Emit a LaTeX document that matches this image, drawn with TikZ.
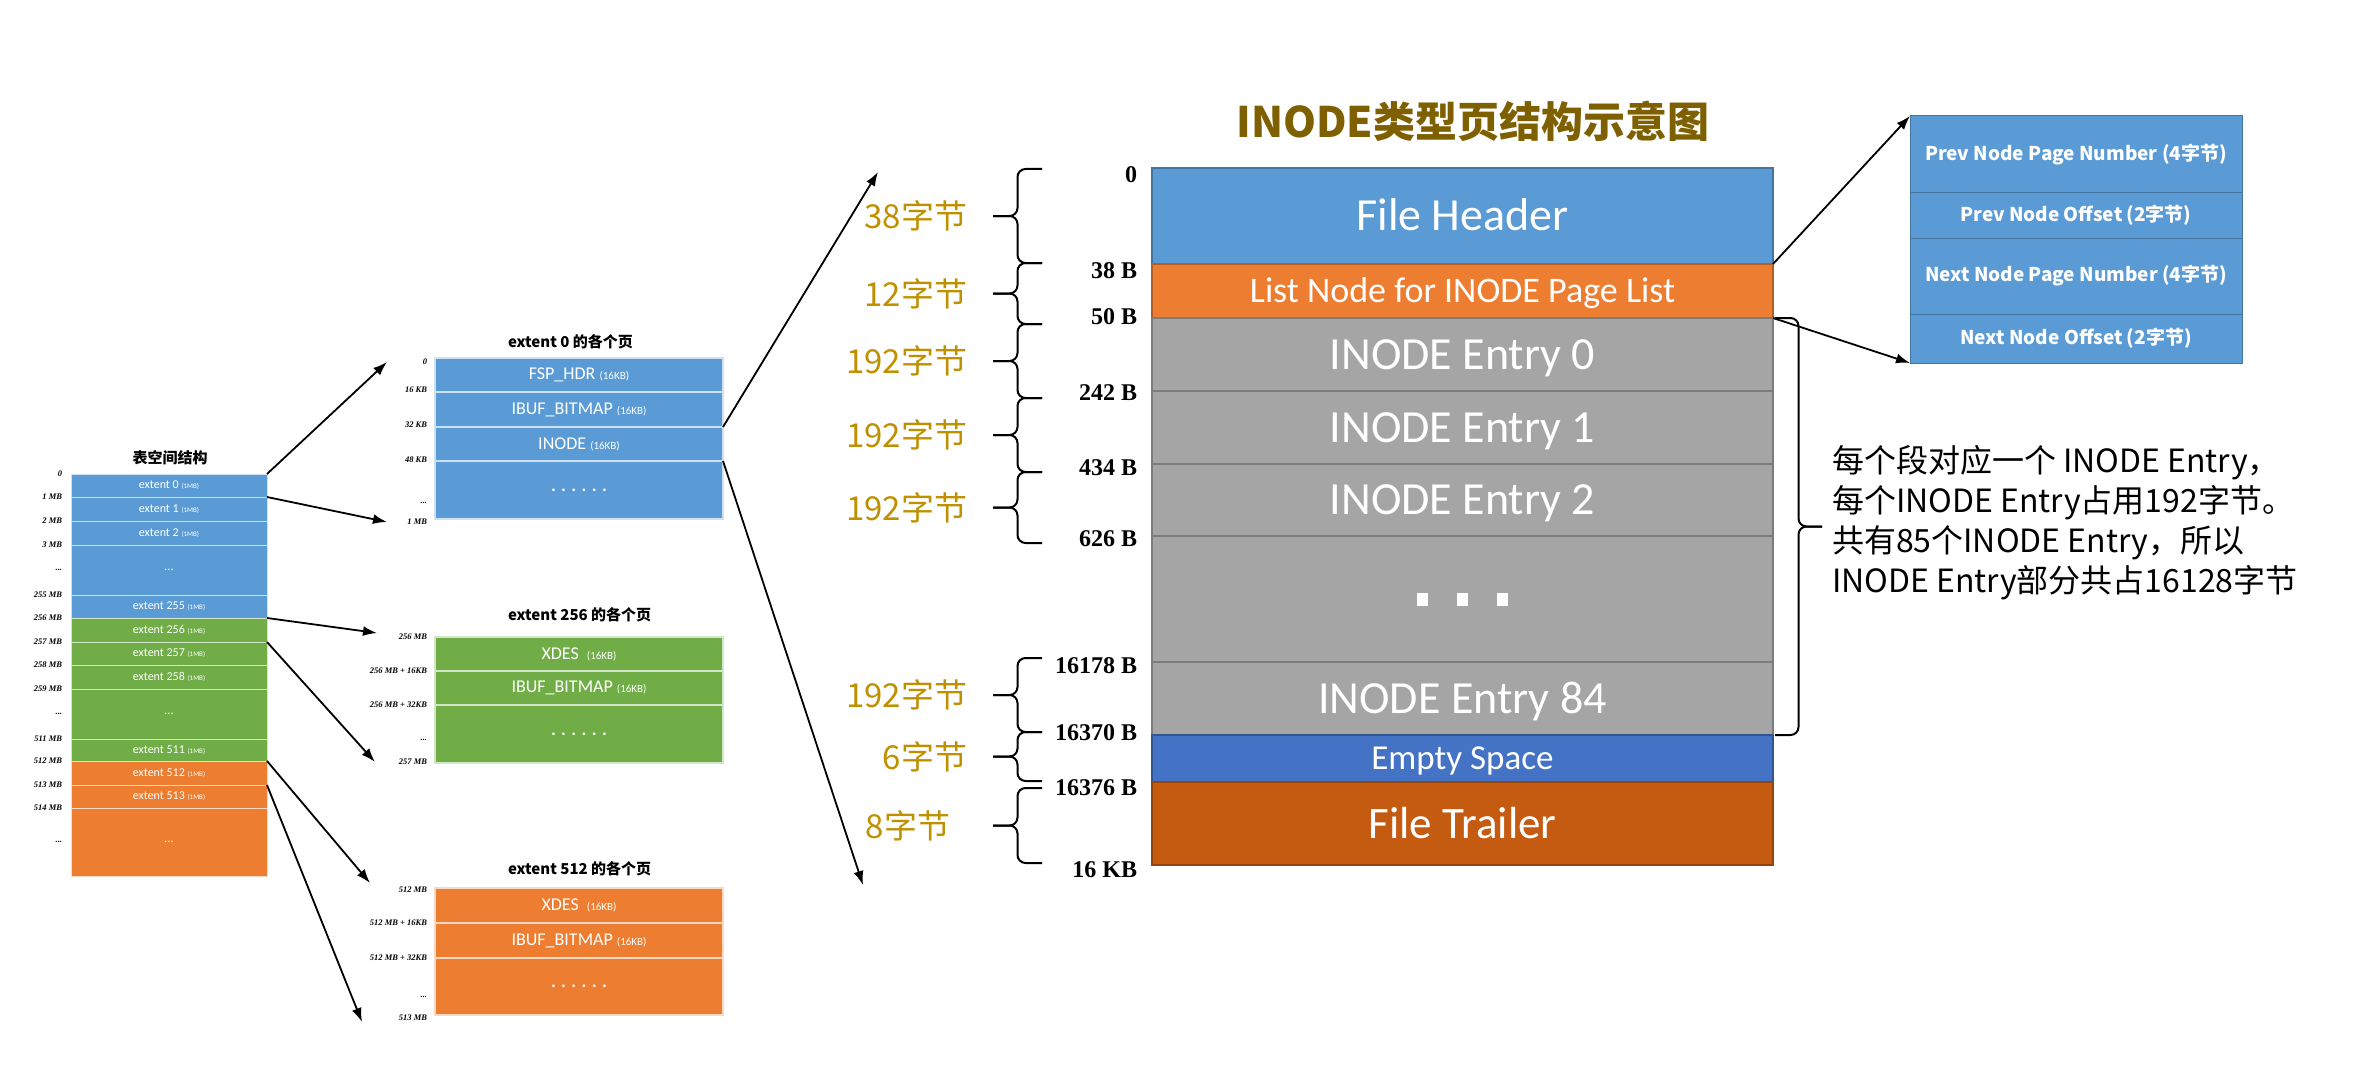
\documentclass[tikz,border=0pt]{standalone}
\usepackage{fontspec}
\usepackage{tikz}
\usetikzlibrary{arrows.meta}
\setmainfont{Carlito}
\newfontfamily\cjk{Noto Sans CJK SC}
\newfontfamily\tnr{Liberation Serif}

% brace: ends x, tip x, top y, bottom y
\newcommand{\sizebrace}[4]{%
  \draw[bracestyle] (#1,#3) -- ({(#1+#2)/2},#3) -- ({(#1+#2)/2},{(#3+#4)/2}) -- (#2,{(#3+#4)/2});
  \draw[bracestyle] (#1,#4) -- ({(#1+#2)/2},#4) -- ({(#1+#2)/2},{(#3+#4)/2}) -- (#2,{(#3+#4)/2});
}

\begin{document}
\begin{tikzpicture}[x=1pt, y=-1pt,
    every node/.style={inner sep=0pt, outer sep=0pt},
    row/.style={anchor=north west, fill=#1, draw=#1!75!black, text=white},
    pagerow/.style={row=#1, line width=1.5pt, minimum width=621pt, text height=29pt, text depth=0pt, font=\fontsize{46}{50}\selectfont},
    infrow/.style={row=#1, line width=1pt, minimum width=332pt, font=\cjk\bfseries\fontsize{19}{22}\selectfont},
    extrow/.style={anchor=north west, fill=#1, draw=white!70!#1, line width=1pt, text=white, minimum width=196pt, font=\fontsize{12}{14}\selectfont},
    pgrow/.style={anchor=north west, fill=#1, draw=white!70!#1, line width=1.2pt, text=white, minimum width=288pt, font=\fontsize{18}{20}\selectfont},
    offs/.style={anchor=east, font=\tnr\bfseries\fontsize{24}{26}\selectfont},
    tinylbl/.style={anchor=east, font=\tnr\bfseries\itshape\fontsize{8.5}{10}\selectfont},
    bytes/.style={anchor=east, text=gold, font=\cjk\fontsize{33}{36}\selectfont},
    subttl/.style={anchor=west, font=\cjk\bfseries\fontsize{15}{17}\selectfont},
    arr/.style={-{Latex[length=14pt,width=10pt]}, line width=1.8pt},
    bracestyle/.style={line width=2pt, rounded corners=8pt}]
    % office-like colours
    \definecolor{blue1}{HTML}{5B9BD5}
    \definecolor{orange1}{HTML}{ED7D31}
    \definecolor{green1}{HTML}{70AD47}
    \definecolor{gray1}{HTML}{A5A5A5}
    \definecolor{blue2}{HTML}{4472C4}
    \definecolor{orange2}{HTML}{C55A11}
    \definecolor{gold}{HTML}{BF9000}
    \definecolor{titlebrown}{HTML}{7F6000}
    \useasboundingbox (0,0) rectangle (2376,1086);

    % table space
    \node[font=\cjk\bfseries\fontsize{15}{17}\selectfont] (tstitle) at (170,458) {表空间结构};
    \node[extrow=blue1, minimum height=23pt] (ext0) at (71,474) {extent 0 {\fontsize{7}{8}\selectfont(1MB)}};
    \node[extrow=blue1, minimum height=24pt] (ext1) at (71,497) {extent 1 {\fontsize{7}{8}\selectfont(1MB)}};
    \node[extrow=blue1, minimum height=24pt] (ext2) at (71,521) {extent 2 {\fontsize{7}{8}\selectfont(1MB)}};
    \node[extrow=blue1, minimum height=50pt] (extA) at (71,545) {...};
    \node[extrow=blue1, minimum height=23pt] (ext255) at (71,595) {extent 255 {\fontsize{7}{8}\selectfont(1MB)}};
    \node[extrow=green1, minimum height=24pt] (ext256) at (71,618) {extent 256 {\fontsize{7}{8}\selectfont(1MB)}};
    \node[extrow=green1, minimum height=23pt] (ext257) at (71,642) {extent 257 {\fontsize{7}{8}\selectfont(1MB)}};
    \node[extrow=green1, minimum height=24pt] (ext258) at (71,665) {extent 258 {\fontsize{7}{8}\selectfont(1MB)}};
    \node[extrow=green1, minimum height=50pt] (extB) at (71,689) {...};
    \node[extrow=green1, minimum height=22pt] (ext511) at (71,739) {extent 511 {\fontsize{7}{8}\selectfont(1MB)}};
    \node[extrow=orange1, minimum height=24pt] (ext512) at (71,761) {extent 512 {\fontsize{7}{8}\selectfont(1MB)}};
    \node[extrow=orange1, minimum height=23pt] (ext513) at (71,785) {extent 513 {\fontsize{7}{8}\selectfont(1MB)}};
    \node[extrow=orange1, minimum height=68pt] (extC) at (71,808) {...};
    \node[tinylbl] (m0) at (62,474) {0};
    \node[tinylbl] (m1) at (62,497) {1 MB};
    \node[tinylbl] (m2) at (62,521) {2 MB};
    \node[tinylbl] (m3) at (62,545) {3 MB};
    \node[tinylbl] (mA) at (62,570) {...};
    \node[tinylbl] (m255) at (62,595) {255 MB};
    \node[tinylbl] (m256) at (62,618) {256 MB};
    \node[tinylbl] (m257) at (62,642) {257 MB};
    \node[tinylbl] (m258) at (62,665) {258 MB};
    \node[tinylbl] (m259) at (62,689) {259 MB};
    \node[tinylbl] (mB) at (62,714) {...};
    \node[tinylbl] (m511) at (62,739) {511 MB};
    \node[tinylbl] (m512) at (62,761) {512 MB};
    \node[tinylbl] (m513) at (62,785) {513 MB};
    \node[tinylbl] (m514) at (62,808) {514 MB};
    \node[tinylbl] (mC) at (62,842) {...};

    % pages of extent 0, 256, 512
    \node[subttl] (t0) at (508,342) {extent 0 的各个页};
    \node[pgrow=blue1, minimum height=34pt] (fsp0) at (435,358) {FSP\_HDR {\fontsize{11}{12}\selectfont(16KB)}};
    \node[pgrow=blue1, minimum height=35pt] (ibuf0) at (435,392) {IBUF\_BITMAP {\fontsize{11}{12}\selectfont(16KB)}};
    \node[pgrow=blue1, minimum height=34pt] (inode0) at (435,427) {INODE {\fontsize{11}{12}\selectfont(16KB)}};
    \node[pgrow=blue1, minimum height=58pt] (more0) at (435,461) {\bfseries . . . . . .};
    \node[tinylbl] (k0a) at (427,362) {0};
    \node[tinylbl] (k0b) at (427,390) {16 KB};
    \node[tinylbl] (k0c) at (427,425) {32 KB};
    \node[tinylbl] (k0d) at (427,460) {48 KB};
    \node[tinylbl] (k0e) at (427,503) {...};
    \node[tinylbl] (k0f) at (427,522) {1 MB};

    \node[subttl] (t256) at (508,615) {extent 256 的各个页};
    \node[pgrow=green1, minimum height=34pt] (xdes256) at (435,637) {XDES \ {\fontsize{11}{12}\selectfont(16KB)}};
    \node[pgrow=green1, minimum height=34pt] (ibuf256) at (435,671) {IBUF\_BITMAP {\fontsize{11}{12}\selectfont(16KB)}};
    \node[pgrow=green1, minimum height=58pt] (more256) at (435,705) {\bfseries . . . . . .};
    \node[tinylbl] (k256a) at (427,637) {256 MB};
    \node[tinylbl] (k256b) at (427,671) {256 MB + 16KB};
    \node[tinylbl] (k256c) at (427,705) {256 MB + 32KB};
    \node[tinylbl] (k256d) at (427,740) {...};
    \node[tinylbl] (k256e) at (427,762) {257 MB};

    \node[subttl] (t512) at (508,869) {extent 512 的各个页};
    \node[pgrow=orange1, minimum height=35pt] (xdes512) at (435,888) {XDES \ {\fontsize{11}{12}\selectfont(16KB)}};
    \node[pgrow=orange1, minimum height=35pt] (ibuf512) at (435,923) {IBUF\_BITMAP {\fontsize{11}{12}\selectfont(16KB)}};
    \node[pgrow=orange1, minimum height=57pt] (more512) at (435,958) {\bfseries . . . . . .};
    \node[tinylbl] (k512a) at (427,890) {512 MB};
    \node[tinylbl] (k512b) at (427,923) {512 MB + 16KB};
    \node[tinylbl] (k512c) at (427,958) {512 MB + 32KB};
    \node[tinylbl] (k512d) at (427,997) {...};
    \node[tinylbl] (k512e) at (427,1018) {513 MB};

    \coordinate (p0top) at (387,362);
    \coordinate (p0bot) at (387,522);
    \coordinate (p256top) at (377,633);
    \coordinate (p256bot) at (375,762);
    \coordinate (p512top) at (370,883);
    \coordinate (p512bot) at (362,1022);
    \draw[arr] (ext0.north east) -- (p0top);
    \draw[arr] (ext1.north east) -- (p0bot);
    \draw[arr] (ext256.north east) -- (p256top);
    \draw[arr] (ext257.north east) -- (p256bot);
    \draw[arr] (ext512.north east) -- (p512top);
    \draw[arr] (ext513.north east) -- (p512bot);

    % INODE page
    \node[font=\cjk\bfseries\fontsize{42}{46}\selectfont, text=titlebrown] (title) at (1473,121) {INODE类型页结构示意图};
    \node[pagerow=blue1, minimum height=96pt] (fh) at (1152,168) {File Header};
    \node[pagerow=orange1, minimum height=54pt, text height=23pt, font=\fontsize{36}{40}\selectfont] (ln) at (1152,264) {List Node for INODE Page List};
    \node[pagerow=gray1, minimum height=73pt] (e0) at (1152,318) {INODE Entry 0};
    \node[pagerow=gray1, minimum height=73pt] (e1) at (1152,391) {INODE Entry 1};
    \node[pagerow=gray1, minimum height=72pt] (e2) at (1152,464) {INODE Entry 2};
    \node[pagerow=gray1, minimum height=126pt, text height=13pt] (edots) at (1152,536) {\rule{11pt}{13pt}\hspace{29pt}\rule{11pt}{13pt}\hspace{29pt}\rule{11pt}{13pt}};
    \node[pagerow=gray1, minimum height=73pt] (e84) at (1152,662) {INODE Entry 84};
    \node[pagerow=blue2, minimum height=47pt, text height=22.5pt, font=\fontsize{35}{38}\selectfont] (es) at (1152,735) {Empty Space};
    \node[pagerow=orange2, minimum height=83pt, font=\fontsize{45}{48}\selectfont] (ft) at (1152,782) {File Trailer};

    \node[offs] (o0) at (1137,175) {0};
    \node[offs] (o38) at (1137,271) {38 B};
    \node[offs] (o50) at (1137,317) {50 B};
    \node[offs] (o242) at (1137,393) {242 B};
    \node[offs] (o434) at (1137,468) {434 B};
    \node[offs] (o626) at (1137,539) {626 B};
    \node[offs] (o16178) at (1137,666) {16178 B};
    \node[offs] (o16370) at (1137,733) {16370 B};
    \node[offs] (o16376) at (1137,788) {16376 B};
    \node[offs] (o16k) at (1137,870) {16 KB};

    \sizebrace{1042}{993}{169}{263}
    \sizebrace{1042}{993}{263}{324}
    \sizebrace{1042}{993}{324}{398}
    \sizebrace{1042}{993}{398}{472}
    \sizebrace{1042}{993}{472}{543}
    \sizebrace{1042}{993}{658}{732}
    \sizebrace{1042}{993}{732}{781}
    \sizebrace{1042}{993}{788}{863}
    \node[bytes] (b38) at (967,216) {38字节};
    \node[bytes] (b12) at (967,294) {12字节};
    \node[bytes] (b192a) at (967,361) {192字节};
    \node[bytes] (b192b) at (967,435) {192字节};
    \node[bytes] (b192c) at (967,508) {192字节};
    \node[bytes] (b192d) at (967,695) {192字节};
    \node[bytes] (b6) at (967,757) {6字节};
    \node[bytes] (b8) at (950,826) {8字节};

    % list node fields
    \node[infrow=blue1, minimum height=77pt] (pnpn) at (1910,116) {Prev Node Page Number (4字节)};
    \node[infrow=blue1, minimum height=45pt] (pno) at (1910,193) {Prev Node Offset (2字节)};
    \node[infrow=blue1, minimum height=76pt] (nnpn) at (1910,238) {Next Node Page Number (4字节)};
    \node[infrow=blue1, minimum height=49pt] (nno) at (1910,314) {Next Node Offset (2字节)};
    \draw[arr] (fh.south east) -- (pnpn.north west);
    \draw[arr] (ln.south east) -- (nno.south west);

    \sizebrace{1775}{1822}{318}{735}
    \node[anchor=west, align=left, font=\cjk\fontsize{32}{40}\selectfont] (note) at (1832,523) {每个段对应一个 INODE Entry，\\每个INODE Entry占用192字节。\\共有85个INODE Entry，所以\\INODE Entry部分共占16128字节};

    \coordinate (pgtop) at (878,172);
    \coordinate (pgbot) at (863,885);
    \draw[arr] (inode0.north east) -- (pgtop);
    \draw[arr] (more0.north east) -- (pgbot);
\end{tikzpicture}
\end{document}
